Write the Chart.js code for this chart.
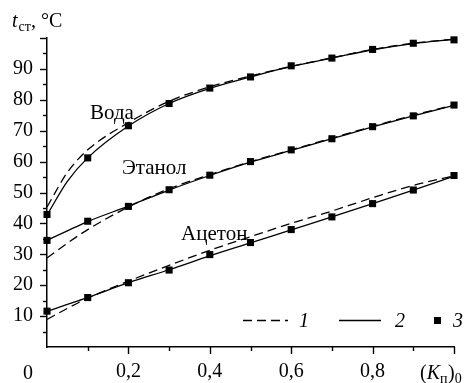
<!DOCTYPE html>
<html><head><meta charset="utf-8">
<script src="https://cdn.jsdelivr.net/npm/chart.js@4/dist/chart.umd.min.js"></script>
<style>html,body{margin:0;padding:0;background:#fff}#wrap{width:467px;height:383px}</style>
</head><body><div id="wrap"><canvas id="c"></canvas></div>
<script>
// x positions of the computed curves and of the experimental points
const xCurve = [0, 0.05, 0.1, 0.2, 0.3, 0.4, 0.5, 0.6, 0.7, 0.8, 0.9, 1.0];
const xExp   = [0, 0.1, 0.2, 0.3, 0.4, 0.5, 0.6, 0.7, 0.8, 0.9, 1.0];

// Вода
const vodaCalc1 = [45.3, 56.5, 63.8, 72.6, 79.5, 84.2, 87.7, 90.8, 93.6, 96.3, 98.3, 99.6];
const vodaCalc2 = [42.7, 53.6, 61.2, 71.5, 78.8, 83.7, 87.4, 90.8, 93.5, 96.2, 98.2, 99.6];
const vodaExp   = [42.9, 61.2, 71.6, 78.8, 83.8, 87.4, 91.0, 93.5, 96.3, 98.3, 99.4];
// Этанол
const etanolCalc1 = [28.8, 33.6, 38.0, 45.3, 51.2, 55.8, 60.0, 63.8, 67.6, 71.4, 75.0, 78.3];
const etanolCalc2 = [34.5, 37.6, 40.6, 45.6, 50.8, 55.5, 59.8, 63.6, 67.4, 71.2, 74.8, 78.2];
const etanolExp   = [34.5, 40.7, 45.5, 50.9, 55.6, 60.0, 63.8, 67.4, 71.3, 74.8, 78.3];
// Ацетон
const acetonCalc1 = [8.9, 12.5, 15.8, 21.3, 26.4, 31.3, 35.7, 40.0, 44.0, 48.3, 52.3, 55.4];
const acetonCalc2 = [11.5, 13.8, 16.0, 20.8, 25.0, 29.5, 33.7, 37.9, 42.1, 46.4, 50.8, 55.3];
const acetonExp   = [11.6, 16.0, 20.8, 24.9, 29.9, 33.8, 38.0, 42.1, 46.4, 50.8, 55.5];

const seriesNames = ['Вода', 'Этанол', 'Ацетон'];
const legendLabels = ['1', '2', '3'];
const xTickLabels = {0.2: '0,2', 0.4: '0,4', 0.6: '0,6', 0.8: '0,8'};
const yTickLabels = [10, 20, 30, 40, 50, 60, 70, 80, 90];

const FONT = '"Liberation Serif", "Times New Roman", serif';
const pts = (xs, ys) => xs.map((x, i) => ({x, y: ys[i]}));

function dashed(ys) {
  return {type: 'scatter', data: pts(xCurve, ys), showLine: true, borderColor: '#000', borderWidth: 1.3,
    borderDash: [9, 5], pointRadius: 0, cubicInterpolationMode: 'monotone', clip: false};
}
function solid(ys) {
  return {type: 'scatter', data: pts(xCurve, ys), showLine: true, borderColor: '#000', borderWidth: 1.3,
    pointRadius: 0, cubicInterpolationMode: 'monotone', clip: false};
}
function exp(ys) {
  return {type: 'scatter', data: pts(xExp, ys), showLine: false, pointStyle: 'rect', pointRadius: 5,
    pointBorderWidth: 0, backgroundColor: '#000', borderColor: '#000', clip: false};
}

const decor = {
  id: 'decor',
  afterDraw(chart) {
    const ctx = chart.ctx, xs = chart.scales.x, ys = chart.scales.y;
    const x0 = xs.getPixelForValue(0), yb = ys.getPixelForValue(0);
    ctx.save();
    ctx.strokeStyle = '#000'; ctx.lineWidth = 1.4; ctx.setLineDash([]);
    // y ticks
    for (let v = 5; v <= 100; v += 5) {
      const y = Math.round(ys.getPixelForValue(v)) + 0.5;
      const len = v % 10 === 0 ? 7 : 4;
      ctx.beginPath(); ctx.moveTo(x0 - len, y); ctx.lineTo(x0, y); ctx.stroke();
    }
    // x ticks
    for (let i = 1; i <= 10; i++) {
      const x = Math.round(xs.getPixelForValue(i / 10)) + 0.5;
      const len = i % 2 === 0 ? 7 : 4;
      ctx.beginPath(); ctx.moveTo(x, yb); ctx.lineTo(x, yb + len); ctx.stroke();
    }
    ctx.fillStyle = '#000';
    ctx.textBaseline = 'alphabetic';
    // origin label
    ctx.font = '20px ' + FONT; ctx.textAlign = 'center';
    ctx.fillText('0', 28, 379);
    // x axis title (K_п)_0
    ctx.textAlign = 'left';
    let px = 420;
    ctx.font = '20px ' + FONT; ctx.fillText('(', px, 379); px += ctx.measureText('(').width;
    ctx.font = 'italic 20px ' + FONT; ctx.fillText('K', px, 379); px += ctx.measureText('K').width;
    ctx.font = '14px ' + FONT; ctx.fillText('п', px, 383); px += ctx.measureText('п').width + 0.5;
    ctx.font = '20px ' + FONT; ctx.fillText(')', px, 379); px += ctx.measureText(')').width;
    ctx.font = '14px ' + FONT; ctx.fillText('0', px, 383);
    // y axis title t_ст, °C
    px = 12;
    ctx.font = 'italic 20px ' + FONT; ctx.fillText('t', px, 27); px += ctx.measureText('t').width + 1;
    ctx.font = '14px ' + FONT; ctx.fillText('ст', px, 31); px += ctx.measureText('ст').width;
    ctx.font = '20px ' + FONT; ctx.fillText(', °C', px, 27);
    // series names
    ctx.font = '21px ' + FONT;
    ctx.fillText(seriesNames[0], 90, 119);
    ctx.fillText(seriesNames[1], 122, 174);
    ctx.fillText(seriesNames[2], 181, 240);
    // legend
    const ly = 320.5;
    ctx.lineWidth = 1.3;
    ctx.setLineDash([9, 5]);
    ctx.beginPath(); ctx.moveTo(243, ly); ctx.lineTo(288, ly); ctx.stroke();
    ctx.setLineDash([]);
    ctx.beginPath(); ctx.moveTo(339, ly); ctx.lineTo(381, ly); ctx.stroke();
    ctx.fillRect(434, ly - 3.5, 7, 7);
    ctx.font = 'italic 20px ' + FONT;
    ctx.fillText(legendLabels[0], 299, 327);
    ctx.fillText(legendLabels[1], 395, 327);
    ctx.fillText(legendLabels[2], 453, 327);
    ctx.restore();
  }
};

new Chart(document.getElementById('c'), {
  type: 'scatter',
  data: {datasets: [
    dashed(vodaCalc1), solid(vodaCalc2), exp(vodaExp),
    dashed(etanolCalc1), solid(etanolCalc2), exp(etanolExp),
    dashed(acetonCalc1), solid(acetonCalc2), exp(acetonExp)
  ]},
  options: {
    responsive: true, maintainAspectRatio: false, animation: false,
    layout: {padding: {top: 38, right: 4, left: 0, bottom: 0}},
    plugins: {legend: {display: false}, tooltip: {enabled: false}},
    scales: {
      x: {type: 'linear', min: 0, max: 1,
        afterFit(s) { s.height = 36; },
        grid: {display: false, drawTicks: false},
        border: {display: true, color: '#000', width: 1.5},
        ticks: {stepSize: 0.1, padding: 13, color: '#000', font: {family: FONT, size: 20}, maxRotation: 0, autoSkip: false,
          callback: v => xTickLabels[Math.round(v * 10) / 10] || ''}
      },
      y: {type: 'linear', min: 0, max: 100,
        afterFit(s) { s.width = 47; },
        grid: {display: false, drawTicks: false},
        border: {display: true, color: '#000', width: 1.5},
        ticks: {stepSize: 10, padding: 14, color: '#000', font: {family: FONT, size: 20},
          callback: v => yTickLabels.includes(v) ? String(v) : ''}
      }
    }
  },
  plugins: [decor]
});
</script></body></html>
